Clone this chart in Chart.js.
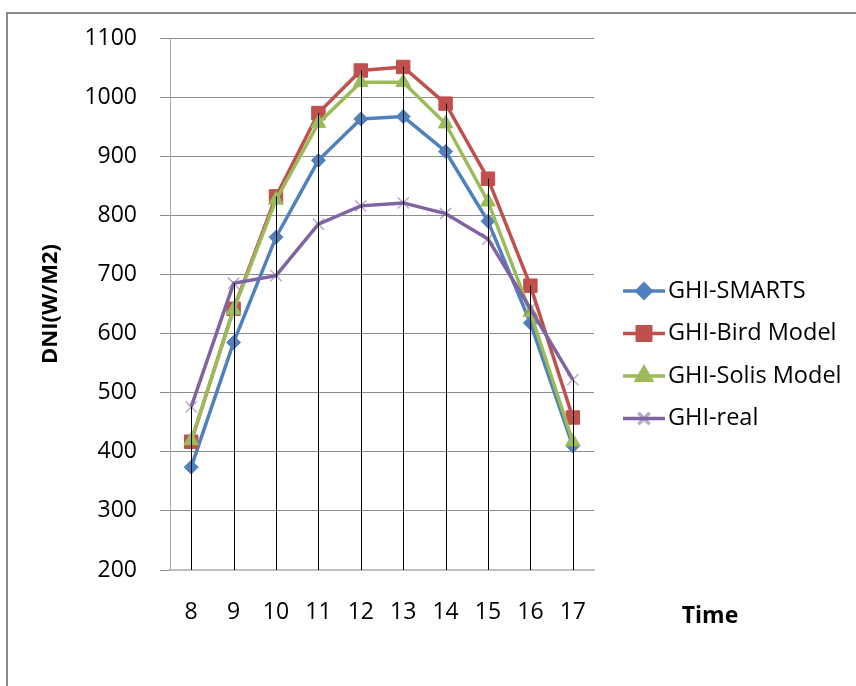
<!DOCTYPE html>
<html>
<head>
<meta charset="utf-8">
<script src="https://cdn.jsdelivr.net/npm/chart.js@4.4.1/dist/chart.umd.min.js"></script>
<style>
  html, body { margin: 0; padding: 0; background: #fff; }
  #wrap { position: relative; width: 856px; height: 686px; overflow: hidden; }
  #frame { position: absolute; left: 6px; top: 12px; width: 900px; height: 800px; border: 2px solid #8a8a8a; box-sizing: border-box; }
  canvas { position: absolute; left: 0; top: 0; }
</style>
</head>
<body>
<div id="wrap">
  <div id="frame"></div>
  <canvas id="chart" width="856" height="686"></canvas>
</div>
<script>
'use strict';

// Hours of the day
const hours = ['8', '9', '10', '11', '12', '13', '14', '15', '16', '17'];

// Series values (W/m2)
const ghiSmarts = [374, 585, 763, 893, 963, 967, 908, 790, 618, 410];
const ghiBird   = [417, 642, 832, 973, 1045, 1051, 989, 862, 681, 458];
const ghiSolis  = [419, 640, 826, 956, 1025, 1025, 955, 823, 636, 417];
const ghiReal   = [476, 685, 698, 785, 816, 821, 803, 760, 642, 522];

const yTicks = [200, 300, 400, 500, 600, 700, 800, 900, 1000, 1100];

const FONT = "'Open Sans', 'DejaVu Sans', sans-serif";

const series = [
	{ label: 'GHI-SMARTS',      data: ghiSmarts, color: '#4f81bd', style: 'rectRot',  radius: 7,   order: 4 },
	{ label: 'GHI-Bird Model',  data: ghiBird,   color: '#c0504d', style: 'rect',     radius: 9.5, order: 3 },
	{ label: 'GHI-Solis Model', data: ghiSolis,  color: '#9bbb59', style: 'triangle', radius: 8.5, order: 2 },
	{ label: 'GHI-real',        data: ghiReal,   color: '#8064a2', style: 'crossRot', radius: 8,   order: 1 }
];

// Drop lines: from the axis up to the highest value of each hour
const dropLines = {
	id: 'dropLines',
	afterDatasetsDraw(chart) {
		const ctx = chart.ctx;
		const x = chart.scales.x;
		const y = chart.scales.y;
		ctx.save();
		ctx.strokeStyle = '#000';
		ctx.lineWidth = 1;
		hours.forEach(function(h, i) {
			const top = Math.max.apply(null, series.map(s => s.data[i]));
			const px = Math.round(x.getPixelForValue(i)) + 0.5;
			ctx.beginPath();
			ctx.moveTo(px, y.getPixelForValue(y.min));
			ctx.lineTo(px, y.getPixelForValue(top));
			ctx.stroke();
		});
		ctx.restore();
	}
};

// Legend on the right with line + marker, and the "Time" label
const sideLegend = {
	id: 'sideLegend',
	afterDraw(chart) {
		const ctx = chart.ctx;
		ctx.save();
		series.forEach(function(s, i) {
			const cy = 291 + i * 42.5;
			ctx.strokeStyle = s.color;
			ctx.lineWidth = 3.5;
			ctx.beginPath();
			ctx.moveTo(623, cy);
			ctx.lineTo(665, cy);
			ctx.stroke();
			const isCross = s.style === 'crossRot';
			ctx.fillStyle = s.color;
			ctx.strokeStyle = isCross ? 'rgba(128,100,162,0.55)' : s.color;
			Chart.helpers.drawPoint(ctx, {
				pointStyle: s.style,
				radius: s.radius,
				rotation: 0,
				borderWidth: isCross ? 1.5 : 1
			}, 644, cy);
			ctx.fillStyle = '#000';
			ctx.font = '23.5px ' + FONT;
			ctx.textAlign = 'left';
			ctx.textBaseline = 'middle';
			ctx.fillText(s.label, 668, cy);
		});
		ctx.font = 'bold 23px ' + FONT;
		ctx.textAlign = 'center';
		ctx.textBaseline = 'middle';
		ctx.fillStyle = '#000';
		ctx.fillText('Time', 710, 616);
		ctx.restore();
	}
};

const ctx = document.getElementById('chart').getContext('2d');
new Chart(ctx, {
	type: 'line',
	data: {
		labels: hours,
		datasets: series.map(function(s) {
			const isCross = s.style === 'crossRot';
			return {
				label: s.label,
				data: s.data,
				order: s.order,
				borderColor: s.color,
				backgroundColor: s.color,
				borderWidth: 3.5,
				tension: 0,
				fill: false,
				pointStyle: s.style,
				pointRadius: s.radius,
				pointHoverRadius: s.radius,
				pointBackgroundColor: s.color,
				pointBorderColor: isCross ? 'rgba(128,100,162,0.55)' : s.color,
				pointBorderWidth: isCross ? 1.5 : 1
			};
		})
	},
	options: {
		responsive: false,
		animation: false,
		events: [],
		layout: {
			padding: { left: 30, right: 262, top: 38, bottom: 0 }
		},
		plugins: {
			legend: { display: false },
			tooltip: { enabled: false }
		},
		scales: {
			x: {
				type: 'category',
				offset: true,
				grid: { display: false, drawTicks: false },
				border: { display: true, color: '#bfbfbf', width: 2 },
				ticks: {
					color: '#000',
					padding: 29,
					maxRotation: 0,
					font: { family: FONT, size: 23 }
				},
				afterFit: function(scale) { scale.height = 116; }
			},
			y: {
				min: 200,
				max: 1100,
				afterBuildTicks: function(scale) {
					scale.ticks = yTicks.map(v => ({ value: v }));
				},
				grid: { color: '#8c8c8c', lineWidth: 1, tickLength: 10, drawTicks: true },
				border: { display: true, color: '#a6a6a6', width: 1 },
				ticks: {
					color: '#000',
					padding: 23,
					font: { family: FONT, size: 23 },
					callback: function(value) { return String(value); }
				},
				title: {
					display: true,
					text: 'DNI(W/M2)',
					color: '#000',
					padding: { top: 8, bottom: 0 },
					font: { family: FONT, size: 22, weight: 'bold' }
				},
				afterFit: function(scale) { scale.width = 140; }
			}
		}
	},
	plugins: [dropLines, sideLegend]
});
</script>
</body>
</html>
